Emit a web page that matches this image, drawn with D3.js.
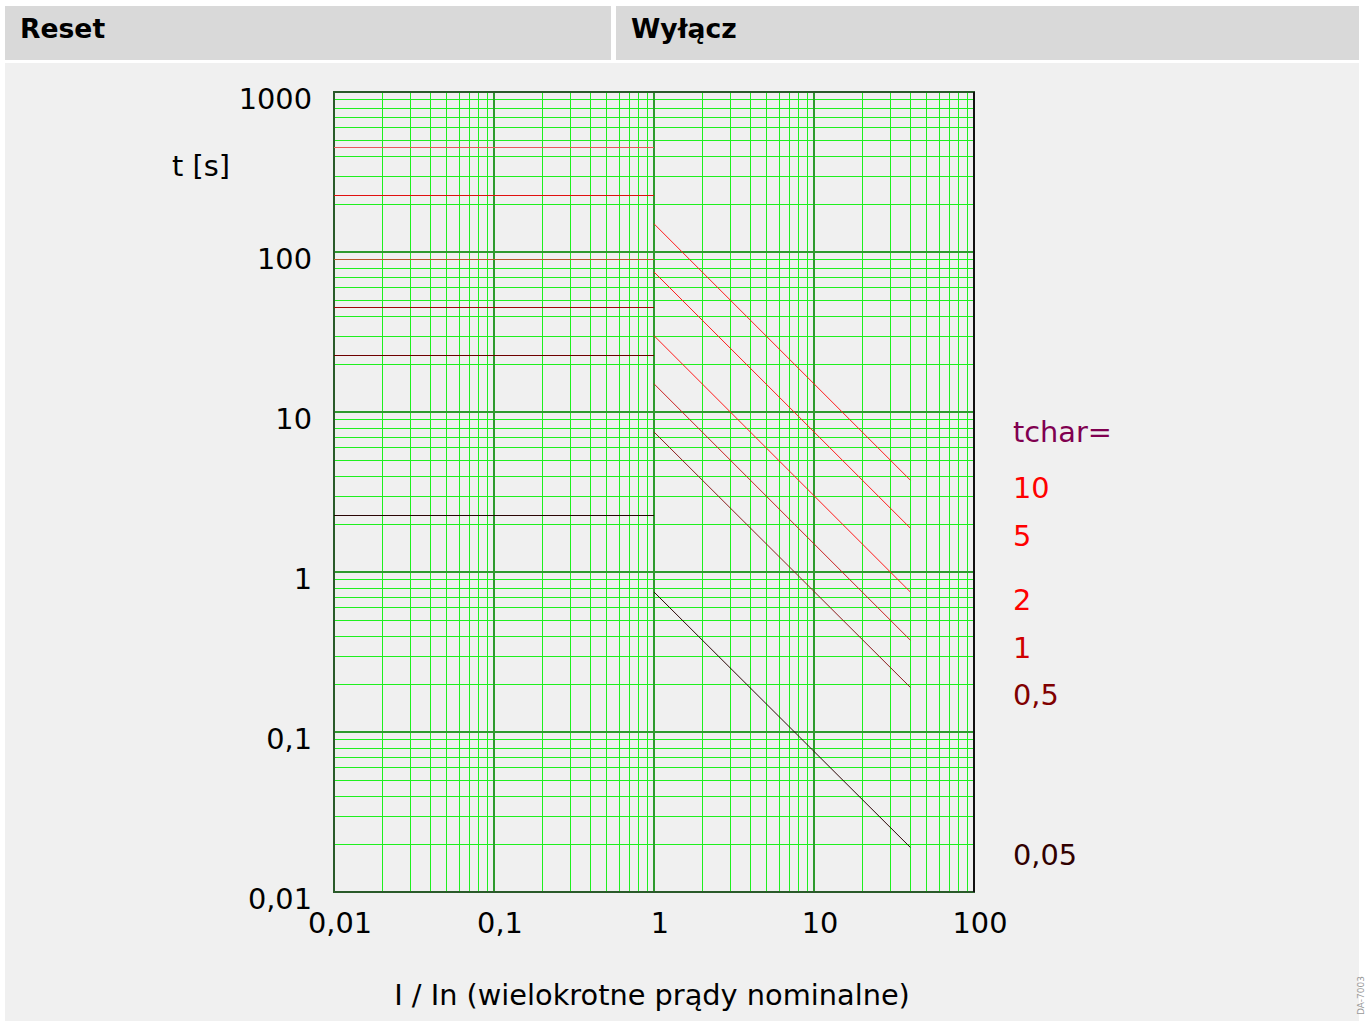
<!DOCTYPE html>
<html>
<head>
<meta charset="utf-8">
<script src="https://cdn.jsdelivr.net/npm/d3@7"></script>
<style>
  body { margin: 0; background: #fff; }
  text { font-family: "DejaVu Sans", sans-serif; }
</style>
</head>
<body>
<div id="chart"></div>
<script>
// tchar settings and the times
var tcharLabels = ["10", "5", "2", "1", "0,5", "0,05"];
var resetTimes = [453, 227, 90.5, 45.3, 22.6, 2.26];      // t at I/In < 1
var tripStart = [150, 75, 30, 15, 7.5, 0.75];              // t at I/In = 1
var tripEnd = [3.75, 1.88, 0.75, 0.375, 0.19, 0.019];      // t at I/In = 40
var tripEndI = 40;
var xTicks = [0.01, 0.1, 1, 10, 100];
var xTickLabels = ["0,01", "0,1", "1", "10", "100"];
var yTicks = [0.01, 0.1, 1, 10, 100, 1000];
var yTickLabels = ["0,01", "0,1", "1", "10", "100", "1000"];

var tripColors = ["#ff1a1a", "#ff1a1a", "#ff1a1a", "#c81e1e", "#8a1c1c", "#2a0505"];
var resetColors = ["#e85a5a", "#e01010", "#b5582a", "#a00808", "#6e0000", "#2a0505"];
var labelColors = ["#ff0000", "#ff0000", "#ff0000", "#d00000", "#800000", "#300000"];

var fs = 28.8;

var svg = d3.select("#chart").append("svg").attr("width", 1365).attr("height", 1021);

// header boxes
svg.append("rect").attr("x", 5).attr("y", 6).attr("width", 606).attr("height", 54).attr("fill", "#d9d9d9");
svg.append("rect").attr("x", 616).attr("y", 6).attr("width", 743).attr("height", 54).attr("fill", "#d9d9d9");
svg.append("text").attr("x", 20).attr("y", 38).attr("font-size", 26.6).attr("font-weight", "bold").text("Reset");
svg.append("text").attr("x", 631).attr("y", 38).attr("font-size", 26.6).attr("font-weight", "bold").text("Wyłącz");
svg.append("rect").attr("x", 5).attr("y", 63).attr("width", 1354).attr("height", 958).attr("fill", "#f0f0f0");

var x = d3.scaleLog().domain([0.01, 100]).range([334, 974]);
var y = d3.scaleLog().domain([0.01, 1000]).range([892, 92]);

var g = svg.append("g");

// minor grid
var minorX = [], minorY = [];
[0.01, 0.1, 1, 10].forEach(function(d) {
  for (var k = 2; k <= 9; k++) minorX.push(d * k);
});
[0.01, 0.1, 1, 10, 100].forEach(function(d) {
  for (var k = 2; k <= 9; k++) minorY.push(d * k);
});

g.selectAll(".mx").data(minorX).enter().append("line")
  .attr("x1", function(d) { return Math.round(x(d)) + 0.5; })
  .attr("x2", function(d) { return Math.round(x(d)) + 0.5; })
  .attr("y1", 92).attr("y2", 892)
  .attr("stroke", "#1ef01e").attr("stroke-width", 1);
g.selectAll(".my").data(minorY).enter().append("line")
  .attr("y1", function(d) { return Math.round(y(d)) + 0.5; })
  .attr("y2", function(d) { return Math.round(y(d)) + 0.5; })
  .attr("x1", 334).attr("x2", 974)
  .attr("stroke", "#1ef01e").attr("stroke-width", 1);

// decade lines
g.selectAll(".Mx").data([0.1, 1, 10]).enter().append("line")
  .attr("x1", function(d) { return x(d); }).attr("x2", function(d) { return x(d); })
  .attr("y1", 92).attr("y2", 892)
  .attr("stroke", "#2e9a2e").attr("stroke-width", 2);
g.selectAll(".My").data([0.1, 1, 10, 100]).enter().append("line")
  .attr("y1", function(d) { return y(d); }).attr("y2", function(d) { return y(d); })
  .attr("x1", 334).attr("x2", 974)
  .attr("stroke", "#2e9a2e").attr("stroke-width", 2);

// frame
g.append("rect").attr("x", 334).attr("y", 92).attr("width", 640).attr("height", 800)
  .attr("fill", "none").attr("stroke", "#2a5a2a").attr("stroke-width", 2);
g.append("line").attr("x1", 974).attr("x2", 974).attr("y1", 92).attr("y2", 892)
  .attr("stroke", "#111").attr("stroke-width", 2);

// reset lines
g.selectAll(".reset").data(resetTimes).enter().append("line")
  .attr("x1", x(0.01)).attr("x2", x(1))
  .attr("y1", function(d) { return Math.round(y(d)) + 0.5; })
  .attr("y2", function(d) { return Math.round(y(d)) + 0.5; })
  .attr("stroke", function(d, i) { return resetColors[i]; }).attr("stroke-width", 1);

// trip lines
g.selectAll(".trip").data(tripStart).enter().append("line")
  .attr("x1", x(1)).attr("y1", function(d) { return y(d); })
  .attr("x2", x(tripEndI)).attr("y2", function(d, i) { return y(tripEnd[i]); })
  .attr("stroke", function(d, i) { return tripColors[i]; }).attr("stroke-width", 1);

// axis labels
svg.selectAll(".yl").data(yTicks).enter().append("text")
  .attr("x", 312).attr("y", function(d) { return y(d) + 17; })
  .attr("text-anchor", "end").attr("font-size", fs).attr("fill", "#000")
  .text(function(d, i) { return yTickLabels[i]; });
svg.selectAll(".xl").data(xTicks).enter().append("text")
  .attr("x", function(d) { return x(d) + 6; }).attr("y", 933)
  .attr("text-anchor", "middle").attr("font-size", fs).attr("fill", "#000")
  .text(function(d, i) { return xTickLabels[i]; });

svg.append("text").attr("x", 172).attr("y", 176).attr("font-size", fs).text("t [s]");
svg.append("text").attr("x", 652).attr("y", 1005).attr("text-anchor", "middle").attr("font-size", fs)
  .text("I / In (wielokrotne prądy nominalne)");

// tchar legend
svg.append("text").attr("x", 1013).attr("y", y(tripEnd[0]) - 38).attr("font-size", fs)
  .attr("fill", "#800050").text("tchar=");
svg.selectAll(".tl").data(tripEnd).enter().append("text")
  .attr("x", 1013).attr("y", function(d) { return y(d) + 18; })
  .attr("font-size", fs).attr("fill", function(d, i) { return labelColors[i]; })
  .text(function(d, i) { return tcharLabels[i]; });

// side id text at the right edge
svg.append("text").attr("transform", "translate(1364,1015) rotate(-90)")
  .attr("font-size", 9).attr("fill", "#999").text("DA-7003");
</script>
</body>
</html>
